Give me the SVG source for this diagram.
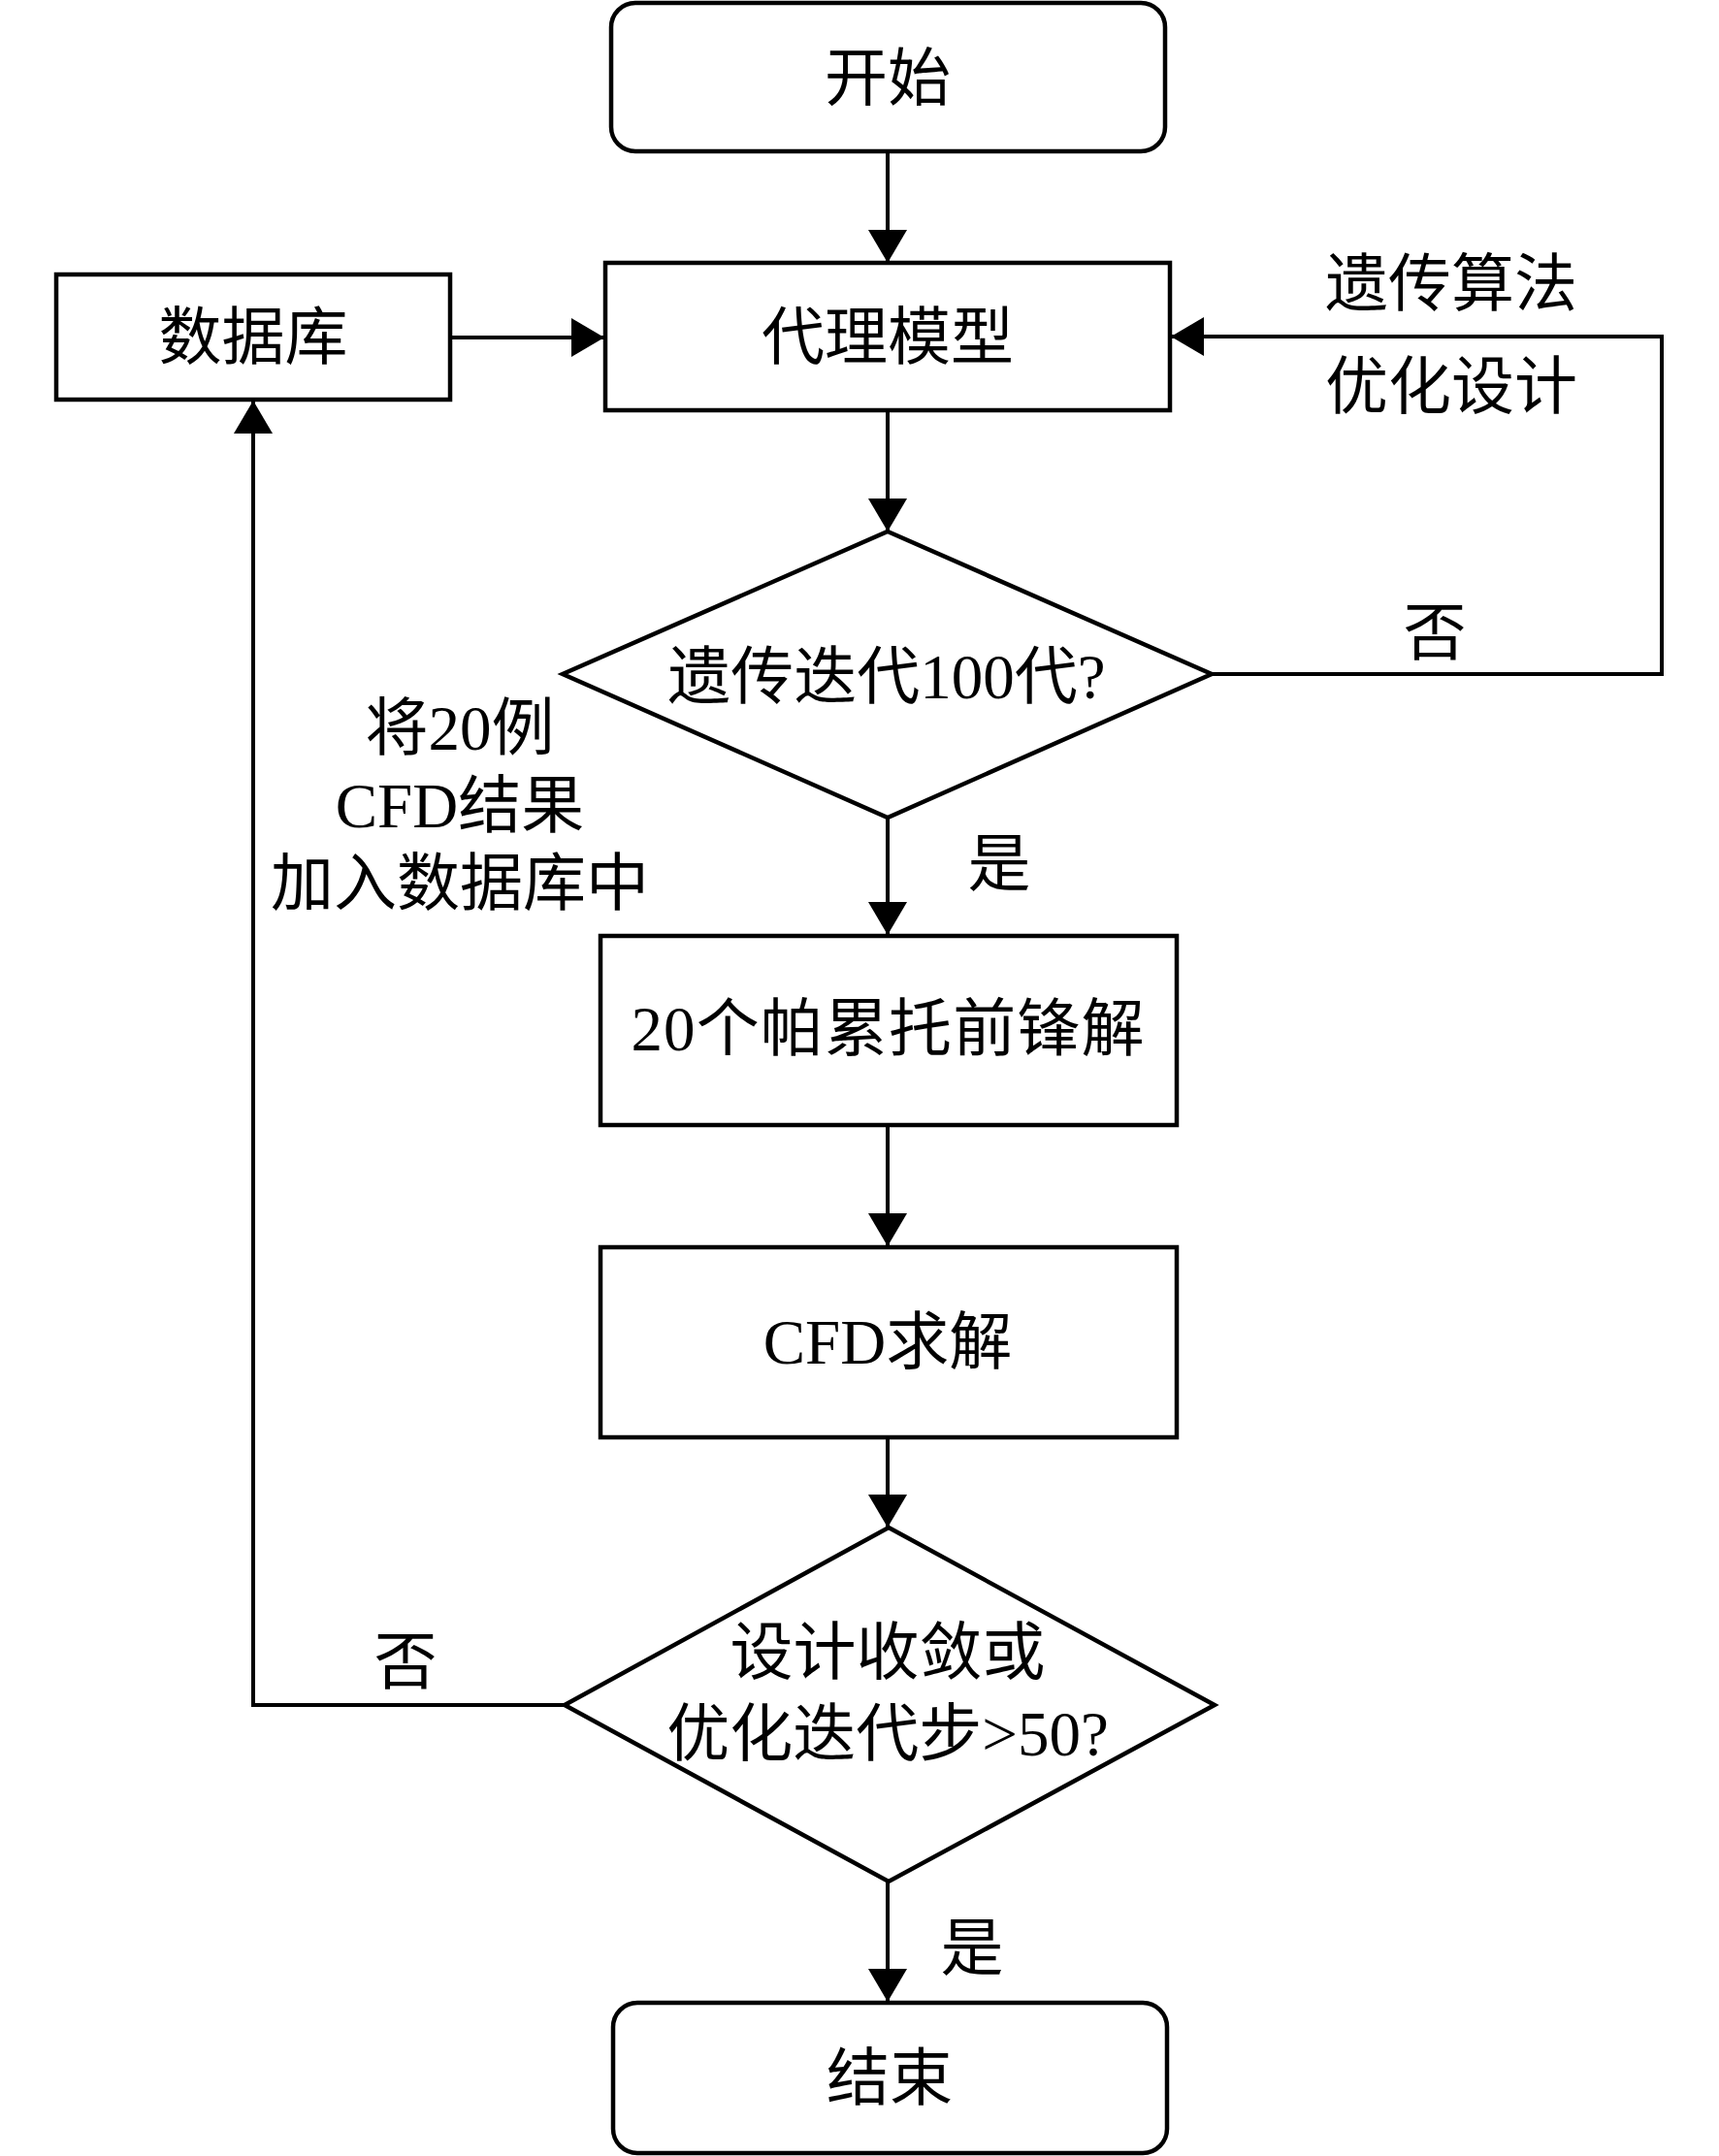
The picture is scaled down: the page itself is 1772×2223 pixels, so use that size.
<svg xmlns="http://www.w3.org/2000/svg" width="1772" height="2223" viewBox="0 0 1772 2223">
<style>
.box{fill:#fff;stroke:#000;stroke-width:4.5}
.ln{fill:none;stroke:#000;stroke-width:4;marker-end:url(#ah)}
.ln2{fill:none;stroke:#000;stroke-width:4}
text{font-family:"Liberation Serif","Noto Sans CJK SC",serif;font-size:65px;fill:#000;text-anchor:middle}
</style>
<defs>
<marker id="ah" viewBox="0 0 34 40" refX="34" refY="20" markerWidth="34" markerHeight="40" markerUnits="userSpaceOnUse" orient="auto">
<path d="M0,0 L34,20 L0,40 z" fill="#000"/>
</marker>
</defs>
<rect width="1772" height="2223" fill="#fff"/>
<g id="connectors">
<path class="ln" d="M915,156 L915,271"/>
<path class="ln" d="M464,348 L623,348"/>
<path class="ln" d="M915,423 L915,548"/>
<path class="ln" d="M1249,695 L1713,695 L1713,347 L1207,347"/>
<path class="ln" d="M915,843 L915,964"/>
<path class="ln" d="M915,1160 L915,1285"/>
<path class="ln" d="M915,1482 L915,1575"/>
<path class="ln" d="M582,1758 L261,1758 L261,413"/>
<path class="ln" d="M915,1940 L915,2064"/>
</g>
<g id="labels">
<text x="1496" y="315">遗传算法</text>
<text x="1496" y="421">优化设计</text>
<text x="1479" y="675">否</text>
<text x="1030" y="913">是</text>
<text x="474" y="773">将20例</text>
<text x="474" y="853">CFD结果</text>
<text x="474" y="933">加入数据库中</text>
<text x="418" y="1736">否</text>
<text x="1002" y="2031">是</text>
</g>
<g id="start">
<rect class="box" x="630" y="3" width="571" height="153" rx="25"/>
<text x="915" y="103">开始</text>
</g>
<g id="surrogate">
<rect class="box" x="624" y="271" width="582" height="152"/>
<text x="915" y="370">代理模型</text>
</g>
<g id="database">
<rect class="box" x="58" y="283" width="406" height="129"/>
<text x="261" y="370">数据库</text>
</g>
<g id="decision1">
<polygon class="box" points="915,548 1249,695 915,843 580,695"/>
<text x="914" y="720">遗传迭代100代?</text>
</g>
<g id="pareto">
<rect class="box" x="619" y="965" width="594" height="195"/>
<text x="915" y="1083" textLength="529" lengthAdjust="spacing">20个帕累托前锋解</text>
</g>
<g id="cfd">
<rect class="box" x="619" y="1286" width="594" height="196"/>
<text x="915" y="1406">CFD求解</text>
</g>
<g id="decision2">
<polygon class="box" points="916,1575 1252,1758 916,1940 582,1758"/>
<text x="915" y="1726">设计收敛或</text>
<text x="915" y="1810">优化迭代步&gt;50?</text>
</g>
<g id="end">
<rect class="box" x="632" y="2065" width="571" height="155" rx="25"/>
<text x="917" y="2165">结束</text>
</g>
</svg>
